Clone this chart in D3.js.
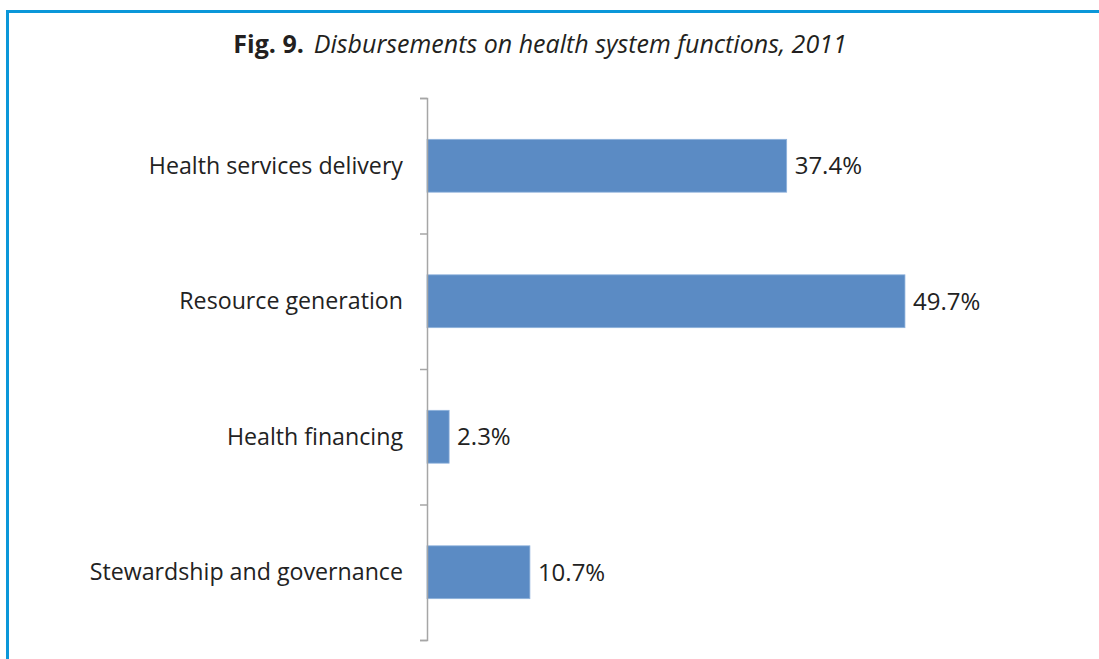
<!DOCTYPE html>
<html>
<head>
<meta charset="utf-8">
<script src="https://d3js.org/d3.v7.min.js"></script>
<style>
  html, body { margin: 0; padding: 0; background: #fff; }
  svg { display: block; }
</style>
</head>
<body>
<svg id="chart" width="1099" height="659"></svg>
<script>
// Health system function disbursements, 2011 (percent of total)
const categories = [
  "Health services delivery",
  "Resource generation",
  "Health financing",
  "Stewardship and governance"
];
const values = [37.4, 49.7, 2.3, 10.7];
const valueLabels = ["37.4%", "49.7%", "2.3%", "10.7%"];

const svg = d3.select("#chart");
const W = 1099, H = 659;

// Framing box (runs past the right and bottom edges)
svg.append("rect")
  .attr("x", 7.5).attr("y", 11.5)
  .attr("width", W + 20).attr("height", H + 20)
  .attr("fill", "none")
  .attr("stroke", "#0b97d9")
  .attr("stroke-width", 3);

// Title
const title = svg.append("text")
  .attr("x", 540).attr("y", 53)
  .attr("text-anchor", "middle")
  .attr("font-family", "'Open Sans', 'Noto Sans', sans-serif")
  .attr("font-size", 25)
  .attr("fill", "#231f20");
title.append("tspan").attr("font-weight", "bold").text("Fig. 9.");
title.append("tspan").attr("font-style", "italic").attr("dx", 10)
  .text("Disbursements on health system functions, 2011");

const margin = { left: 427, top: 98, bottom: 640 };

const x = d3.scaleLinear().domain([0, 60]).range([margin.left, margin.left + 577]);
const y = d3.scaleBand().domain(categories).range([margin.top, margin.bottom])
  .paddingInner(0.61).paddingOuter(0.305);

// Bars
svg.append("g").selectAll("rect")
  .data(categories)
  .join("rect")
  .attr("x", x(0))
  .attr("y", d => y(d))
  .attr("width", (d, i) => x(values[i]) - x(0))
  .attr("height", y.bandwidth())
  .attr("fill", "#5b8bc4")
  .attr("stroke", "#8fb2dc")
  .attr("stroke-width", 0.8);

// Category axis
const axis = d3.axisLeft(
  d3.scalePoint().domain(d3.range(categories.length + 1)).range([margin.top, margin.bottom])
).tickSize(7).tickFormat("");

const gAxis = svg.append("g")
  .attr("transform", `translate(${margin.left},0)`)
  .call(axis);
gAxis.selectAll("path.domain").attr("stroke", "#a6a6a6").attr("stroke-width", 1.5);
gAxis.selectAll(".tick line").attr("stroke", "#a6a6a6").attr("stroke-width", 1.5);

// Category labels
svg.append("g").selectAll("text")
  .data(categories)
  .join("text")
  .attr("x", margin.left - 24)
  .attr("y", d => y(d) + y.bandwidth() / 2)
  .attr("dy", "0.35em")
  .attr("text-anchor", "end")
  .attr("font-family", "'Open Sans', 'Noto Sans', sans-serif")
  .attr("font-size", 23.2)
  .attr("fill", "#222")
  .text(d => d);

// Value labels
svg.append("g").selectAll("text")
  .data(categories)
  .join("text")
  .attr("x", (d, i) => x(values[i]) + 8)
  .attr("y", d => y(d) + y.bandwidth() / 2)
  .attr("dy", "0.35em")
  .attr("font-family", "'Open Sans', 'Noto Sans', sans-serif")
  .attr("font-size", 24)
  .attr("fill", "#222")
  .text((d, i) => valueLabels[i]);
</script>
</body>
</html>
